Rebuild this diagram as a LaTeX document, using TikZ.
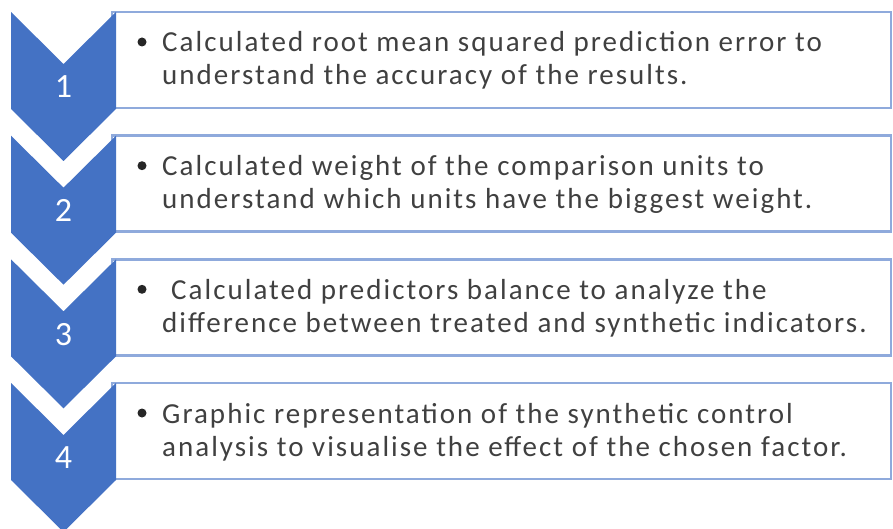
\documentclass[tikz,border=0pt]{standalone}
\usepackage{fontspec}
\setmainfont{Carlito}
\newfontfamily\stepfont[LetterSpace=7]{Carlito}
\usepackage{tikz}
\usetikzlibrary{positioning}
\definecolor{chevblue}{RGB}{68, 114, 196}
\definecolor{framelight}{RGB}{143, 170, 220}
\definecolor{textgray}{RGB}{64, 64, 64}

\begin{document}
\begin{tikzpicture}[
    x=1pt, y=-1pt,
    stepbox/.style={rectangle, draw=framelight, line width=2.5pt, fill=white, minimum width=779pt, minimum height=96pt, inner sep=0pt},
    chevron/.style={fill=chevblue, draw=none},
    numtext/.style={text=white, font=\fontsize{34}{34}\selectfont, inner sep=0pt},
    bulletdot/.style={circle, fill=black!85, minimum size=9pt, inner sep=0pt},
    steptext/.style={anchor=base west, align=left, text=textgray, font=\stepfont\fontsize{29}{33}\selectfont, inner sep=0pt}
]
\useasboundingbox (0,0) rectangle (893,529);
\clip (0,0) rectangle (893,529);

% Boxes
\node[stepbox] (box1) at (501.5, 60) {};
\node[stepbox] (box2) at (501.5, 183.7) {};
\node[stepbox] (box3) at (501.5, 307.3) {};
\node[stepbox] (box4) at (501.5, 431) {};

% Chevrons
\fill[chevron] (11,12) -- (63.5,64) -- (116,12) -- (116,109) -- (63.5,161) -- (11,109) -- cycle;
\fill[chevron] (11,135.7) -- (63.5,187.7) -- (116,135.7) -- (116,232.7) -- (63.5,284.7) -- (11,232.7) -- cycle;
\fill[chevron] (11,259.3) -- (63.5,311.3) -- (116,259.3) -- (116,356.3) -- (63.5,408.3) -- (11,356.3) -- cycle;
\fill[chevron] (11,383) -- (63.5,435) -- (116,383) -- (116,480) -- (63.5,532) -- (11,480) -- cycle;

% Numbers
\node[numtext] (num1) at (63.5, 87) {1};
\node[numtext] (num2) at (63.5, 210.7) {2};
\node[numtext] (num3) at (63.5, 334.3) {3};
\node[numtext] (num4) at (63.5, 458) {4};

% Step 1 (base anchor sits on the second line)
\node[bulletdot] (dot1) at (142, 42) {};
\node[steptext] (text1) at (162, 85) {Calculated root mean squared prediction error to\\understand the accuracy of the results.};

% Step 2
\node[bulletdot] (dot2) at (142, 165.7) {};
\node[steptext] (text2) at (162, 208.7) {Calculated weight of the comparison units to\\understand which units have the biggest weight.};

% Step 3
\node[bulletdot] (dot3) at (142, 289.3) {};
\node[steptext] (text3) at (162, 332.3) {\hspace{9pt}Calculated predictors balance to analyze the\\difference between treated and synthetic indicators.};

% Step 4
\node[bulletdot] (dot4) at (142, 413) {};
\node[steptext] (text4) at (162, 456) {Graphic representation of the synthetic control\\analysis to visualise the effect of the chosen factor.};
\end{tikzpicture}
\end{document}
